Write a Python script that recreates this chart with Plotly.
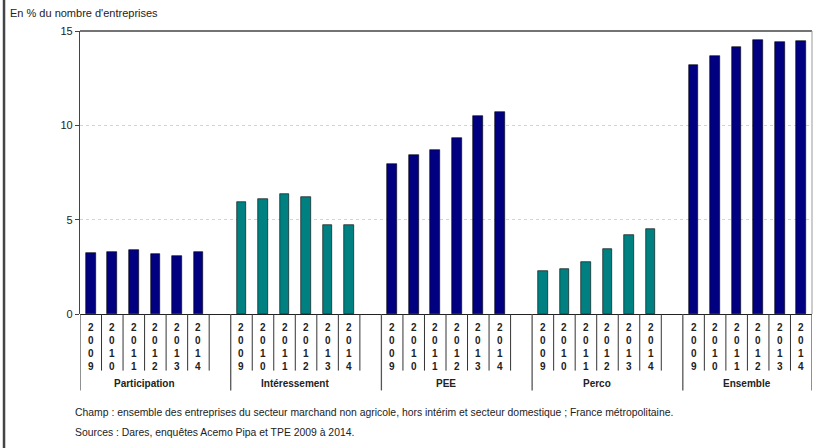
import plotly.graph_objects as go

groups = ["Participation", "Intéressement", "PEE", "Perco", "Ensemble"]
years = ["2009", "2010", "2011", "2012", "2013", "2014"]
participation = [3.23, 3.27, 3.39, 3.2, 3.07, 3.29]
interessement = [5.94, 6.08, 6.36, 6.2, 4.7, 4.7]
pee = [7.93, 8.41, 8.68, 9.31, 10.48, 10.69]
perco = [2.26, 2.37, 2.74, 3.43, 4.17, 4.49]
ensemble = [13.22, 13.67, 14.15, 14.5, 14.41, 14.47]
series = [participation, interessement, pee, perco, ensemble]
colors = ["#000080", "#008080", "#000080", "#008080", "#000080"]
yticks = [0, 5, 10, 15]
footnotes = [
    "Champ : ensemble des entreprises du secteur marchand non agricole, hors intérim et secteur domestique ; France métropolitaine.",
    "Sources : Dares, enquêtes Acemo Pipa et TPE 2009 à 2014.",
]

slot = len(years) + 1
n_slots = slot * (len(groups) - 1) + len(years)

fig = go.Figure()
for g, (name, vals) in enumerate(zip(groups, series)):
    xs = [g * slot + i for i in range(len(years))]
    fig.add_trace(go.Bar(x=xs, y=vals, name=name, width=0.45,
                         marker=dict(color=colors[g], line=dict(color="#000000", width=0.6)),
                         showlegend=False))

shapes = []
annotations = []
font_fam = "Liberation Sans, Arial"
for k in range(n_slots + 1):
    xb = k - 0.5
    is_group_edge = (k % slot == 0) or (k == n_slots)
    if is_group_edge:
        shapes.append(dict(type="line", xref="x", yref="paper", x0=xb, x1=xb,
                           y0=0, y1=-0.27, line=dict(color="#555555", width=1.3)))
    else:
        shapes.append(dict(type="line", xref="x", yref="paper", x0=xb, x1=xb,
                           y0=0, y1=-0.2, line=dict(color="#333333", width=1)))
for g in range(len(groups)):
    for i, yr in enumerate(years):
        annotations.append(dict(x=g * slot + i, y=0, xref="x", yref="paper",
                                yshift=-6, yanchor="top", showarrow=False,
                                text="<b>" + "<br>".join(list(yr)) + "</b>",
                                font=dict(size=10, color="#222222", family=font_fam)))
    annotations.append(dict(x=g * slot + (len(years) - 1) / 2, y=0, xref="x", yref="paper",
                            yshift=-62, yanchor="top", showarrow=False,
                            text="<b>" + groups[g] + "</b>",
                            font=dict(size=10, color="#222222", family=font_fam)))

shapes.append(dict(type="line", xref="paper", yref="paper", x0=0, x1=1, y0=1, y1=1,
                   line=dict(color="#444444", width=1.3)))
shapes.append(dict(type="line", xref="paper", yref="paper", x0=1, x1=1, y0=1, y1=0,
                   line=dict(color="#999999", width=1)))
shapes.append(dict(type="line", xref="paper", yref="paper", x0=-0.1038, x1=-0.1038,
                   y0=-0.6, y1=1.2, line=dict(color="#444444", width=2.5)))

annotations.append(dict(x=0, y=1, xref="paper", yref="paper", xanchor="left", yanchor="top",
                        showarrow=False, text="En % du nombre d'entreprises",
                        xshift=-72, yshift=26,
                        font=dict(size=11, color="#222222", family=font_fam)))
for j, txt in enumerate(footnotes):
    annotations.append(dict(x=0, y=0, xref="paper", yref="paper", xanchor="left", yanchor="middle",
                            showarrow=False, align="left", text=txt,
                            xshift=-7, yshift=-98 - 20 * j,
                            font=dict(size=10.4, color="#222222", family=font_fam)))

fig.update_layout(
    width=835, height=448,
    margin=dict(l=80, r=23, t=31, b=134),
    paper_bgcolor="white", plot_bgcolor="white",
    shapes=shapes, annotations=annotations,
    bargap=0,
    xaxis=dict(range=[-0.5, n_slots - 0.5], showticklabels=False, showgrid=False,
               zeroline=False, showline=False, ticks=""),
    yaxis=dict(range=[0, 15], tickvals=yticks, ticks="outside", ticklen=4,
               tickcolor="#444444", showline=True, linecolor="#444444", linewidth=1.3,
               showgrid=True, gridcolor="#d4d4d4", griddash="3px,3px", gridwidth=1,
               zeroline=True, zerolinecolor="#222222", zerolinewidth=1.3,
               tickfont=dict(size=11, color="#222222", family=font_fam)),
)

fig.write_html("out.html")
